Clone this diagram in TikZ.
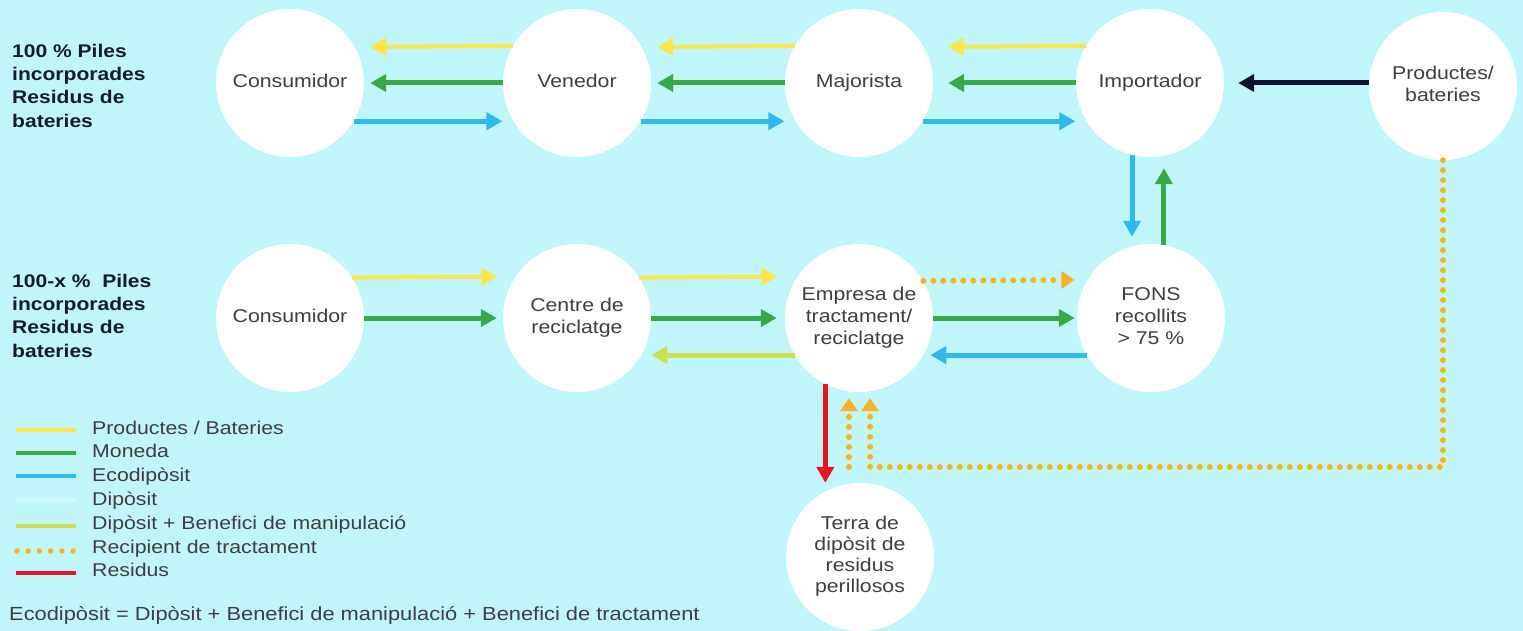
\documentclass[tikz,border=0pt]{standalone}
\usepackage{fontspec}
\setmainfont{Liberation Sans}
\usepackage{graphicx}
\usetikzlibrary{arrows.meta}
\definecolor{bg}{RGB}{192,245,249}
\definecolor{cyel}{RGB}{250,230,75}
\definecolor{cgrn}{RGB}{58,168,72}
\definecolor{cblu}{RGB}{48,186,236}
\definecolor{clim}{RGB}{205,225,80}
\definecolor{corg}{RGB}{250,178,35}
\definecolor{cred}{RGB}{228,22,38}
\definecolor{cnav}{RGB}{12,18,48}
\definecolor{ctxt}{RGB}{62,62,68}
\definecolor{ctit}{RGB}{18,26,52}
\definecolor{cdep}{RGB}{206,248,251}
\newcommand{\sxx}[1]{\scalebox{1.15}[1]{#1}}
\newcommand{\ctext}[1]{\scalebox{1.15}[1]{\begin{tabular}{@{}c@{}}#1\end{tabular}}}
\newcommand{\ltext}[1]{\scalebox{1.15}[1]{\begin{tabular}{@{}l@{}}#1\end{tabular}}}
\tikzset{
  circ/.style={circle, fill=white, minimum size=148pt, inner sep=0pt, text=ctxt,
    font=\fontsize{18.5}{22}\selectfont},
  titletext/.style={anchor=north west, inner sep=0pt, text=ctit,
    font=\bfseries\fontsize{18.3}{23.4}\selectfont},
  legtext/.style={anchor=base west, inner sep=0pt, text=ctxt,
    font=\fontsize{18.5}{22}\selectfont},
  flow/.style={line cap=butt, -{Triangle[length=16pt,width=17pt]}},
  yelflow/.style={flow, draw=cyel, line width=4pt},
  grnflow/.style={flow, draw=cgrn, line width=5pt},
  bluflow/.style={flow, draw=cblu, line width=5pt},
  limflow/.style={flow, draw=clim, line width=5pt},
  navflow/.style={flow, draw=cnav, line width=5pt},
  redflow/.style={flow, draw=cred, line width=5pt},
  dotflow/.style={draw=corg, line width=6pt, line cap=round, dash pattern=on 0pt off 10pt,
    -{Triangle[length=13pt,width=17pt,sep=4pt]}},
  legline/.style={line width=4pt},
}
\begin{document}
\begin{tikzpicture}[x=1pt,y=-1pt]
\useasboundingbox (0,0) rectangle (1523,631);
\fill[bg] (0,0) rectangle (1523,631);

% titles
\node[titletext] (t1) at (12,40.5) {\ltext{100 \% Piles\\incorporades\\Residus de\\bateries}};
\node[titletext] (t2) at (12,270.5) {\ltext{100-x \%\ \ Piles\\incorporades\\Residus de\\bateries}};

% circles
\node[circ] (C1) at (290,83) {\ctext{Consumidor}};
\node[circ] (V) at (577,83) {\ctext{Venedor}};
\node[circ] (M) at (859,83) {\ctext{Majorista}};
\node[circ] (I) at (1150,83) {\ctext{Importador}};
\node[circ] (P) at (1443,86) {\ctext{Productes/\\bateries}};
\node[circ] (C2) at (290,318) {\ctext{Consumidor}};
\node[circ] (R) at (577,318) {\ctext{Centre de\\reciclatge}};
\node[circ] (E) at (859,318) {\ctext{Empresa de\\tractament/\\reciclatge}};
\node[circ] (F) at (1151,318) {\ctext{FONS\\recollits\\> 75 \%}};
\node[circ, font=\fontsize{18.5}{21}\selectfont] (T) at (860,557) {\ctext{Terra de\\dipòsit de\\residus\\perillosos}};

% top row
\draw[yelflow, shorten >=15pt] (V.150.9) -- (C1.29.1);
\draw[grnflow, shorten >=6pt] (V.180) -- (C1.0);
\draw[bluflow, shorten >=11pt] (C1.-31.8) -- (V.211.8);
\draw[yelflow, shorten >=15pt] (M.150.9) -- (V.29.1);
\draw[grnflow, shorten >=6pt] (M.180) -- (V.0);
\draw[bluflow, shorten >=11pt] (V.-31.8) -- (M.211.8);
\draw[yelflow, shorten >=24pt] (I.150.9) -- (M.29.1);
\draw[grnflow, shorten >=15pt] (I.180) -- (M.0);
\draw[bluflow, shorten >=11pt] (M.-31.8) -- (I.211.8);
\draw[navflow, shorten >=14pt] (P.west |- I.east) -- (I.east);

% vertical between Importador and FONS
\draw[bluflow, shorten >=7pt] (I.256) -- (I.256 |- F.north);
\draw[grnflow, shorten >=11pt] (F.80) -- (F.80 |- I.south);

% bottom row
\draw[yelflow, shorten >=18pt] (C2.33.6) -- (R.146.4);
\draw[grnflow, shorten >=6pt] (C2.0) -- (R.180);
\draw[yelflow, shorten >=20pt] (R.33.6) -- (E.146.4);
\draw[grnflow, shorten >=8pt] (R.0) -- (E.180);
\draw[limflow, shorten >=10pt] (E.210) -- (R.-30);
\draw[dotflow, shorten >=9pt] (E.30.9) -- (F.149.1);
\draw[grnflow, shorten >=2pt] (E.0) -- (F.180);
\draw[bluflow, shorten >=7pt] (F.210) -- (E.-30);

% residus
\draw[redflow] (E.243) -- (E.243 |- T.north);

% recipient de tractament
\coordinate (ib) at (870,467);
\coordinate (ob) at (849,467);
\draw[dotflow, shorten >=2pt] (P.south) |- (ib) -- (ib |- E.south);
\draw[dotflow, shorten >=2pt] (ob) -- (ob |- E.south);

% legend
\draw[legline, cyel] (16,430) -- (76,430);
\draw[legline, cgrn] (16,453) -- (76,453);
\draw[legline, cblu] (16,476) -- (76,476);
\draw[legline, cdep] (16,500) -- (76,500);
\draw[legline, clim] (16,526) -- (76,526);
\draw[corg, line width=5.5pt, line cap=round, dash pattern=on 0pt off 11.2pt] (17,551) -- (76,551);
\draw[legline, cred] (16,573) -- (76,573);
\node[legtext] (l1) at (92,434) {\sxx{Productes / Bateries}};
\node[legtext] (l2) at (92,457.8) {\sxx{Moneda}};
\node[legtext] (l3) at (92,481.6) {\sxx{Ecodipòsit}};
\node[legtext] (l4) at (92,505.4) {\sxx{Dipòsit}};
\node[legtext] (l5) at (92,529.2) {\sxx{Dipòsit + Benefici de manipulació}};
\node[legtext] (l6) at (92,553) {\sxx{Recipient de tractament}};
\node[legtext] (l7) at (92,576.8) {\sxx{Residus}};
\node[legtext, font=\fontsize{19}{22}\selectfont] (note) at (9,620) {\sxx{Ecodipòsit = Dipòsit + Benefici de manipulació + Benefici de tractament}};
\end{tikzpicture}
\end{document}
